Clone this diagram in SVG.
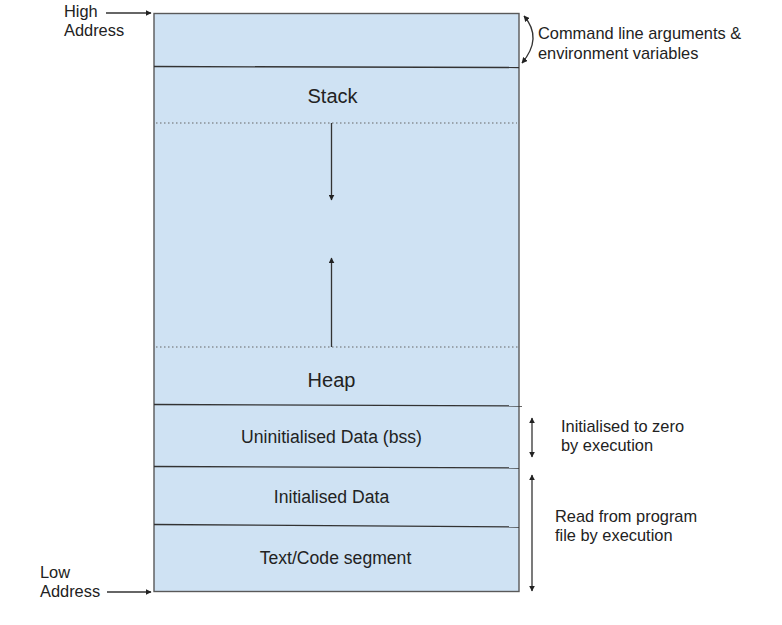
<svg xmlns="http://www.w3.org/2000/svg" width="782" height="625" viewBox="0 0 782 625">
<style>
  text { font-family: "Liberation Sans", Arial, sans-serif; fill: #222; }
  .big { font-size: 20px; text-anchor: middle; }
  .mid { font-size: 17.6px; text-anchor: middle; }
  .side { font-size: 16.4px; }
  .div { stroke: #333; stroke-width: 1.3; fill: none; }
  .dot { stroke: #666; stroke-width: 1.2; stroke-dasharray: 1.5 2.5; fill: none; }
  .arr { stroke: #333; stroke-width: 1.3; fill: none; }
</style>
<defs>
  <marker id="ah" viewBox="0 0 10 10" refX="9" refY="5" markerWidth="6" markerHeight="6" markerUnits="userSpaceOnUse" orient="auto-start-reverse">
    <path d="M0,0 L10,5 L0,10 z" fill="#222"/>
  </marker>
</defs>
<rect width="782" height="625" fill="#ffffff"/>

<g id="memory-box">
  <rect x="154" y="13.5" width="365" height="578" fill="#cfe2f3" stroke="#595959" stroke-width="1.4"/>
</g>

<g id="args-env">
  <line class="div" x1="154" y1="66.5" x2="519" y2="67.5"/>
</g>

<g id="stack">
  <text class="big" x="332.5" y="102.5">Stack</text>
  <line class="dot" x1="156" y1="123" x2="517" y2="123"/>
</g>

<g id="heap">
  <line class="dot" x1="156" y1="347" x2="519" y2="347"/>
  <text class="big" x="331.5" y="387">Heap</text>
</g>

<g id="bss">
  <line class="div" x1="154" y1="404.5" x2="522" y2="406"/>
  <text class="mid" x="331.5" y="443">Uninitialised Data (bss)</text>
</g>

<g id="init-data">
  <line class="div" x1="154" y1="466.5" x2="519" y2="468"/>
  <text class="mid" x="331.5" y="503">Initialised Data</text>
</g>

<g id="text-segment">
  <line class="div" x1="154" y1="524.5" x2="519" y2="527"/>
  <text class="mid" x="335.5" y="563.5">Text/Code segment</text>
</g>

<g id="high-address">
  <text class="side" x="64" y="16.5">High</text>
  <text class="side" x="64" y="36">Address</text>
</g>

<g id="low-address">
  <text class="side" x="40" y="578">Low</text>
  <text class="side" x="40" y="597">Address</text>
</g>

<g id="label-args">
  <text class="side" x="538" y="39">Command line arguments &amp;</text>
  <text class="side" x="538" y="59">environment variables</text>
</g>

<g id="label-bss">
  <text class="side" x="561" y="432">Initialised to zero</text>
  <text class="side" x="561" y="451">by execution</text>
</g>

<g id="label-data">
  <text class="side" x="555" y="522">Read from program</text>
  <text class="side" x="555" y="541">file by execution</text>
</g>

<g id="connectors">
  <line class="arr" x1="106" y1="13" x2="151" y2="13" marker-end="url(#ah)"/>
  <line class="arr" x1="107" y1="592" x2="151" y2="592" marker-end="url(#ah)"/>
  <line class="arr" x1="331.5" y1="123" x2="331.5" y2="200" marker-end="url(#ah)"/>
  <line class="arr" x1="331.5" y1="347" x2="331.5" y2="258" marker-end="url(#ah)"/>
  <path class="arr" d="M524,16 Q543,38 522,63" marker-start="url(#ah)" marker-end="url(#ah)"/>
  <line class="arr" x1="532" y1="418" x2="532" y2="457" marker-start="url(#ah)" marker-end="url(#ah)"/>
  <line class="arr" x1="532" y1="475" x2="532" y2="591" marker-start="url(#ah)" marker-end="url(#ah)"/>
</g>
</svg>
